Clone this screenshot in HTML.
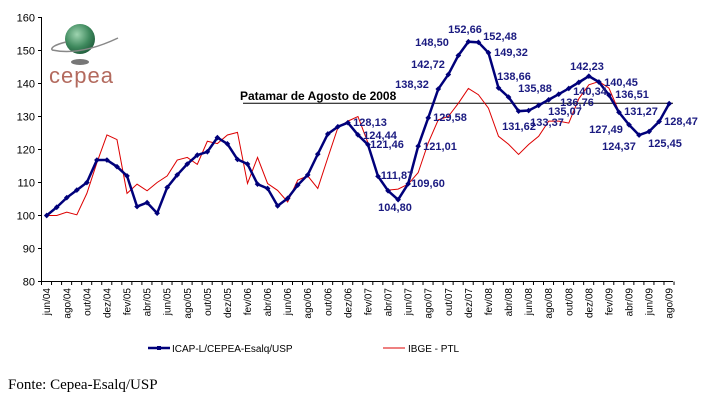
<!DOCTYPE html>
<html><head><meta charset="utf-8"><style>
body{margin:0;background:#fff;}
svg{display:block;font-family:"Liberation Sans",Arial,sans-serif;}
</style></head><body>
<svg id="s" width="711" height="400" viewBox="0 0 711 400" xmlns="http://www.w3.org/2000/svg">
<defs><radialGradient id="g" cx="0.4" cy="0.35" r="0.7"><stop offset="0" stop-color="#9ed4b0"/><stop offset="0.6" stop-color="#3f8a5e"/><stop offset="1" stop-color="#1f5a3a"/></radialGradient></defs>
<g id="axes" stroke="#000" stroke-width="1" fill="none"></g>
<g id="ylab" font-size="11" text-anchor="end" fill="#000"></g>
<g id="xlab" font-size="10" fill="#000"></g>
<!-- logo -->
<ellipse cx="80" cy="62" rx="9" ry="3" fill="#777"/>
<circle cx="80" cy="39" r="15" fill="url(#g)"/>
<path d="M52 50 Q80 56 118 38" stroke="#888" stroke-width="1.5" fill="none"/>
<path d="M52 50 Q50 46 66 42" stroke="#888" stroke-width="1.5" fill="none"/>
<text x="49" y="83" font-size="22" fill="#b36a5e" font-family="Liberation Sans,sans-serif" letter-spacing="1">cepea</text>
<!-- patamar -->
<line x1="243" y1="103.3" x2="673" y2="103.3" stroke="#000" stroke-width="1"/>
<text x="240" y="100" font-size="12" font-weight="bold" fill="#000">Patamar de Agosto de 2008</text>
<polyline id="red" fill="none" stroke="#d00" stroke-width="1"/>
<polyline id="blue" fill="none" stroke="#00007a" stroke-width="2.5"/>
<g id="marks" fill="#00007a"></g>
<g id="lbl" font-size="11" font-weight="bold" fill="#1a1a80" text-anchor="middle"></g>
<!-- legend -->
<line x1="148" y1="348" x2="170" y2="348" stroke="#00007a" stroke-width="2.5"/>
<rect x="157" y="346" width="4" height="4" fill="#00007a"/>
<text x="172" y="352" font-size="10" fill="#000">ICAP-L/CEPEA-Esalq/USP</text>
<line x1="383" y1="348" x2="405" y2="348" stroke="#d00" stroke-width="1"/>
<text x="408" y="352" font-size="10" fill="#000">IBGE - PTL</text>
<text x="8" y="389" font-size="15" font-family="Liberation Serif,serif" fill="#000">Fonte: Cepea-Esalq/USP</text>
</svg>
<script>
const NS="http://www.w3.org/2000/svg";
const X=i=>46.7+10.04*i, Y=v=>17.5+(160-v)*3.3;
function el(p,t,a,txt){const e=document.createElementNS(NS,t);for(const k in a)e.setAttribute(k,a[k]);if(txt!==undefined)e.textContent=txt;document.getElementById(p).appendChild(e);}
el("axes","line",{x1:41.5,y1:17,x2:41.5,y2:282});
el("axes","line",{x1:41.5,y1:281.5,x2:673,y2:281.5});
for(let v=80;v<=160;v+=10){el("axes","line",{x1:38,y1:Y(v),x2:41.5,y2:Y(v)});el("ylab","text",{x:35,y:Y(v)+4},String(v));}
for(let k=0;k<=63;k++){const x=41.5+10.04*k;el("axes","line",{x1:x,y1:281.5,x2:x,y2:285});}
const mn=["jun","ago","out","dez","fev","abr"];
let yr=4;
for(let j=0;j<32;j++){const m=mn[j%6];if(m==="fev")yr++;const x=X(2*j)+3.5;
el("xlab","text",{x:x,y:288,transform:`rotate(-90 ${x} 288)`,"text-anchor":"end"},m+"/0"+yr);}
const B=[100,102.5,105.4,107.7,110,116.8,116.8,114.8,112,102.7,103.9,100.7,108.5,112.3,115.6,118.3,119.3,123.6,121.7,117,115.6,109.5,108.2,102.9,105.2,109.2,112.3,118.6,124.7,126.9,128.13,124.44,121.46,111.87,107.5,104.8,109.6,121.01,129.58,138.32,142.72,148.5,152.66,152.48,149.32,138.66,135.88,131.62,131.8,133.37,135.07,136.76,138.5,140.34,142.23,140.45,136.51,131.27,127.49,124.37,125.45,128.47,133.9];
const R=[100,100,101,100.2,106.7,116,124.4,123,106.7,109.5,107.5,110,112,116.8,117.6,115.5,122.5,121.8,124.4,125.2,109.7,117.6,109.7,107.6,104.1,110.7,112,108.2,117.5,126.6,128.6,130,122,111.7,107.7,108,109.5,113,122,129,130,134,138.5,136.6,132.5,124,121.6,118.5,121.5,124,128.6,128.6,128,135.4,139.6,140.6,138.6,131.5];
document.getElementById("blue").setAttribute("points",B.map((v,i)=>X(i)+","+Y(v)).join(" "));
document.getElementById("red").setAttribute("points",R.map((v,i)=>X(i)+","+Y(v)).join(" "));
B.forEach((v,i)=>el("marks","rect",{x:X(i)-2,y:Y(v)-2,width:4,height:4,transform:`rotate(45 ${X(i)} ${Y(v)})`}));
const L=[["128,13",370,122],["124,44",380,135],["121,46",387,144],["111,87",397,175],["104,80",395,207],["109,60",428,183],["121,01",440,146],["129,58",450,117],["138,32",412,84],["142,72",428,64],["148,50",432,42],["152,66",465,29],["152,48",500,36],["149,32",511,52],["138,66",514,76],["135,88",535,88],["131,62",519,126],["133,37",547,122],["135,07",565,111],["136,76",577,102],["142,23",587,66],["140,34",590,91],["140,45",621,82],["136,51",632,94],["131,27",641,111],["127,49",606,129],["124,37",619,146],["125,45",665,143],["128,47",681,121]];
L.forEach(a=>el("lbl","text",{x:a[1],y:a[2]+4},a[0]));
</script>
</body></html>
